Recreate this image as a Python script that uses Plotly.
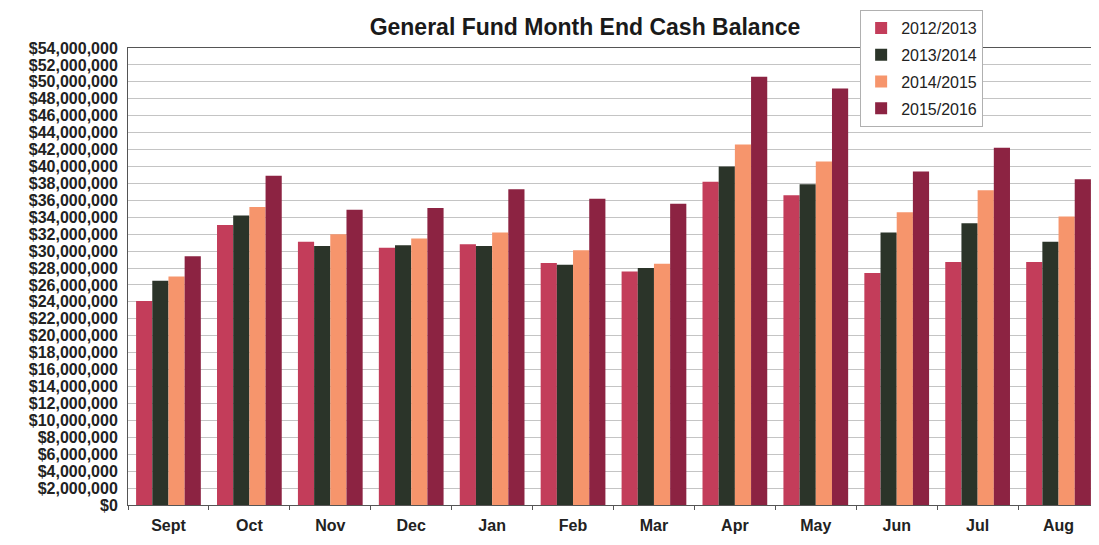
import plotly.graph_objects as go

months = ["Sept", "Oct", "Nov", "Dec", "Jan", "Feb", "Mar", "Apr", "May", "Jun", "Jul", "Aug"]
series_names = ["2012/2013", "2013/2014", "2014/2015", "2015/2016"]
fy_2012_2013 = [24.1, 33.1, 31.1, 30.4, 30.8, 28.6, 27.6, 38.2, 36.6, 27.4, 28.7, 28.7]
fy_2013_2014 = [26.5, 34.2, 30.6, 30.7, 30.6, 28.4, 28.0, 40.0, 37.9, 32.2, 33.3, 31.1]
fy_2014_2015 = [27.0, 35.2, 32.0, 31.5, 32.2, 30.1, 28.5, 42.6, 40.6, 34.6, 37.2, 34.1]
fy_2015_2016 = [29.4, 38.9, 34.9, 35.1, 37.3, 36.2, 35.6, 50.6, 49.2, 39.4, 42.2, 38.5]
tick_values = list(range(0, 54_000_001, 2_000_000))
tick_labels = ["$0"] + [f"${v:,}" for v in tick_values[1:]]

colors = ["#C33D5A", "#2B3429", "#F6956C", "#8C2342"]
all_series = [fy_2012_2013, fy_2013_2014, fy_2014_2015, fy_2015_2016]

fig = go.Figure()
for name, vals, col in zip(series_names, all_series, colors):
    fig.add_trace(go.Bar(
        x=months, y=[v * 1_000_000 for v in vals], name=name, legendgroup=name,
        marker=dict(color=col, line=dict(width=0)),
    ))

fig.update_layout(
    width=1099, height=545,
    barmode="group", bargap=0.2, bargroupgap=0,
    paper_bgcolor="#ffffff", plot_bgcolor="#ffffff",
    margin=dict(l=120, r=8, t=40, b=48, autoexpand=False),
    title=dict(text="General Fund Month End Cash Balance", x=0.525, xanchor="center",
               y=0.965, yanchor="middle",
               font=dict(family="Liberation Sans, Arial", size=23, color="#1a1a1a", weight="bold")),
    font=dict(family="Liberation Sans, Arial", color="#1a1a1a"),
    legend=dict(x=0.754, y=1.083, xanchor="left", yanchor="top",
                bgcolor="#ffffff", bordercolor="#b0b0b0", borderwidth=1,
                font=dict(size=16, color="#222222"), itemwidth=30,
                tracegroupgap=3),
    showlegend=True,
)
fig.update_xaxes(
    showgrid=False, showline=True, linecolor="#555555", linewidth=1, mirror=True,
    ticks="outside", tickson="boundaries", ticklen=4, tickcolor="#555555",
    ticklabelstandoff=6,
    tickfont=dict(size=16, weight="bold", color="#222222"),
)
fig.update_yaxes(
    range=[0, 54_000_000], tickvals=tick_values, ticktext=tick_labels,
    showgrid=True, gridcolor="#c4c4c4", gridwidth=1,
    showline=True, linecolor="#555555", linewidth=1, mirror=True,
    ticks="outside", ticklen=6, tickcolor="#ffffff",
    tickfont=dict(size=16, weight="bold", color="#222222"),
    zeroline=False,
)

fig.write_html("out.html")
